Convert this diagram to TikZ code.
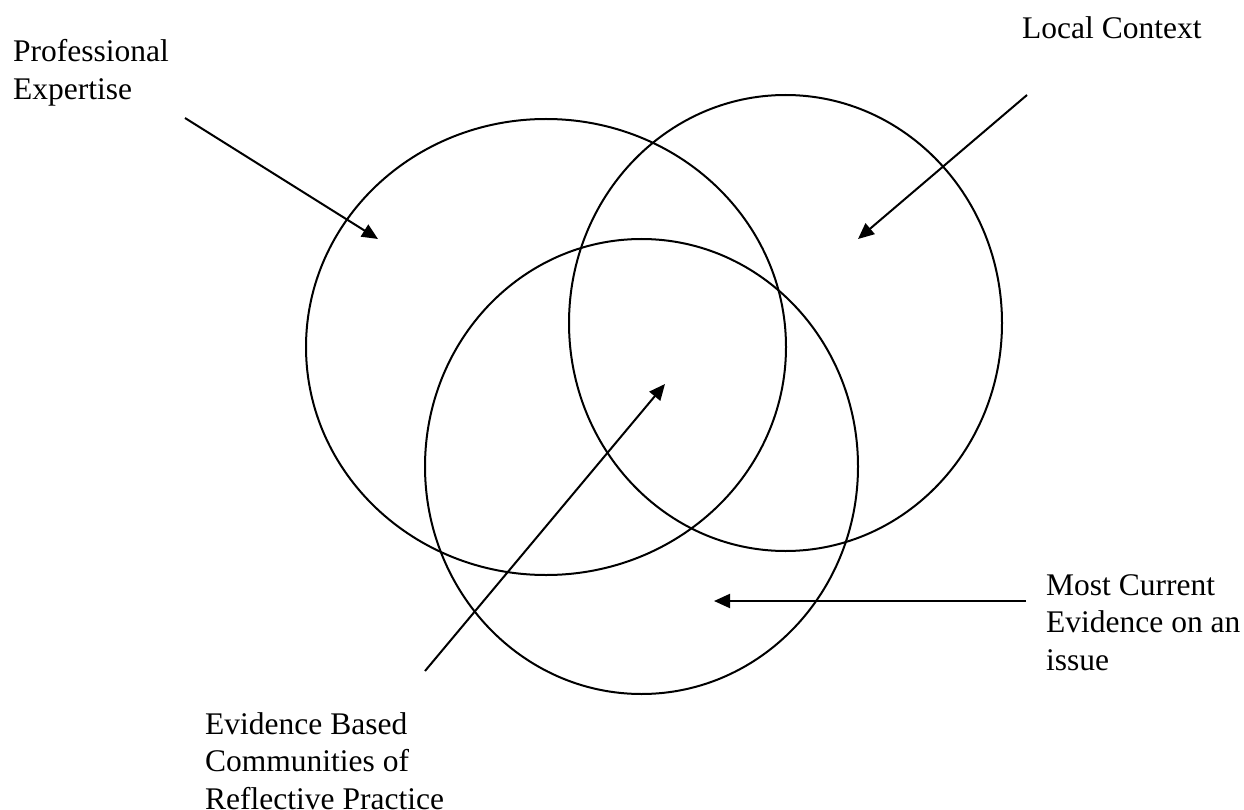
\documentclass[tikz,border=0pt]{standalone}
\usepackage{fontspec}
\setmainfont{Liberation Serif}
\usetikzlibrary{arrows.meta,shapes.geometric}
\begin{document}
\begin{tikzpicture}[x=1pt,y=-1pt,
  ring/.style={draw, ellipse, line width=2pt, inner sep=0pt},
  arr/.style={line width=2pt, -{Triangle[length=16pt,width=14pt]}},
  lbl/.style={anchor=base west, inner sep=0pt, font=\fontsize{31.5}{37.5}\selectfont}]
\useasboundingbox (0,0) rectangle (1244,810);
% circles
\node[ring, minimum width=480pt, minimum height=456pt] (pro) at (546,347) {};
\node[ring, minimum width=433pt, minimum height=456pt] (loc) at (785.5,323) {};
\node[ring, minimum width=433pt, minimum height=455pt] (evi) at (641.5,466.5) {};
% labels
\node[lbl] (lpro) at (13,62) {\vtop{\hbox{Professional}\hbox{Expertise}}};
\node[lbl] (lloc) at (1022,39) {Local Context};
\node[lbl] (lcur) at (1046,595) {\vtop{\hbox{Most Current}\hbox{Evidence on an}\hbox{issue}}};
\node[lbl] (lebc) at (205,734) {\vtop{\hbox{Evidence Based}\hbox{Communities of}\hbox{Reflective Practice}}};
% arrow ends
\coordinate (a1s) at (185,118);
\coordinate (a1e) at (378,239);
\coordinate (a2s) at (1027,95);
\coordinate (a2e) at (858,239);
\coordinate (a3s) at (425,671);
\coordinate (a3e) at (665,384);
\coordinate (a4s) at (1026,601);
\coordinate (a4e) at (714,601);
\draw[arr] (a1s) -- (a1e);
\draw[arr] (a2s) -- (a2e);
\draw[arr] (a3s) -- (a3e);
\draw[arr] (a4s) -- (a4e);
\end{tikzpicture}
\end{document}
